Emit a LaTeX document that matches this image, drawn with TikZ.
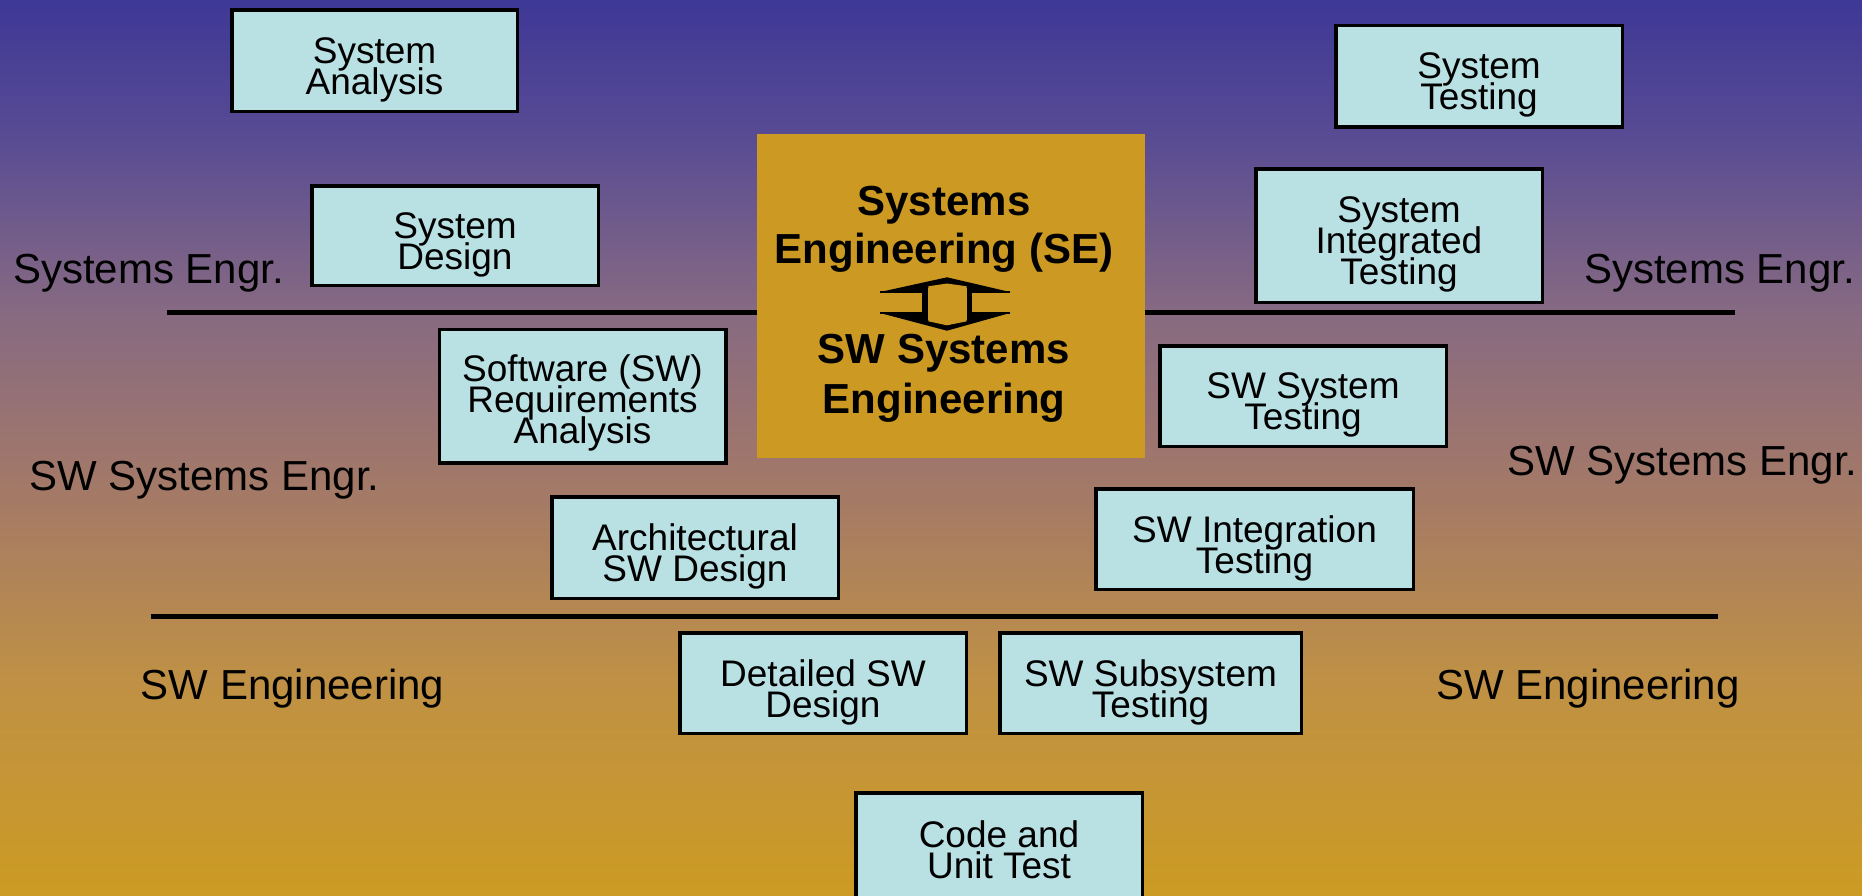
\documentclass[tikz,border=0pt]{standalone}
\usepackage{fontspec}
\setmainfont{Liberation Sans}
\definecolor{bgA}{RGB}{62,56,150}
\definecolor{bgB}{RGB}{88,75,148}
\definecolor{bgC}{RGB}{135,106,130}
\definecolor{bgD}{RGB}{162,120,105}
\definecolor{bgE}{RGB}{192,145,68}
\definecolor{bgF}{RGB}{204,155,35}
\definecolor{boxcyan}{RGB}{185,224,227}
\definecolor{segold}{RGB}{204,153,34}
\pgfdeclareverticalshading{bgshade}{100bp}{color(0bp)=(bgF); color(25bp)=(bgF); color(36.7bp)=(bgE); color(48.2bp)=(bgD); color(57.6bp)=(bgC); color(67.5bp)=(bgB); color(75bp)=(bgA); color(100bp)=(bgA)}
\newcommand{\tightlines}{\lineskiplimit=-100pt\relax\lineskip=0pt\relax}
\tikzset{
  stagebox/.style={draw=black, line width=3.5pt, fill=boxcyan, inner sep=0pt},
  boxtext/.style={align=center, inner sep=0pt, font=\fontsize{37}{31}\selectfont\tightlines},
  sidelabel/.style={inner sep=0pt, anchor=base, font=\fontsize{42}{48}\selectfont},
  setext/.style={inner sep=0pt, anchor=base, font=\fontsize{42}{48}\selectfont\bfseries},
  divider/.style={line width=5pt, draw=black},
}
\begin{document}
\begin{tikzpicture}[x=1pt,y=-1pt]
\clip (0,0) rectangle (1862,895);
\shade[shading=bgshade] (0,0) rectangle (1862,895);

% dividers
\coordinate (d1a) at (167,312);
\coordinate (d1b) at (1735,312);
\coordinate (d2a) at (151,616);
\coordinate (d2b) at (1718,616);
\draw[divider] (d1a) -- (d1b);
\draw[divider] (d2a) -- (d2b);

% central box
\node[fill=segold, minimum width=388pt, minimum height=324pt, inner sep=0pt] (se) at (951,296) {};
\node[setext] (se1) at (944,215) {Systems};
\node[setext] (se2) at (944,263) {Engineering (SE)};
\node[setext] (se3) at (944,363) {SW Systems};
\node[setext] (se4) at (944,413) {Engineering};

% double arrow symbol
\fill[black] (880,292) -- (947,277.3) -- (1010,292) -- cycle;
\fill[black] (880,313) -- (947,330.7) -- (1010,313) -- cycle;
\fill[black] (922,290) rectangle (972,315);
\fill[segold] (928.3,286.3) -- (947,283.5) -- (966.7,286.3) -- (966.7,321.3) -- (947,325.3) -- (928.3,321.3) -- cycle;
\draw[black, line width=1.2pt] (880,292) -- (1010,292) (880,313) -- (1010,313);
\fill[segold] (928.3,287.5) rectangle (966.7,320);

% stage boxes
\node[stagebox, minimum width=285.5pt, minimum height=101.5pt] (sa) at (374.5,60.5) {};
\node[boxtext] (sa-t) at ([yshift=-9pt]sa.center) {System\\Analysis};

\node[stagebox, minimum width=286.5pt, minimum height=99.5pt] (sd) at (455,235.5) {};
\node[boxtext] (sd-t) at ([yshift=-9pt]sd.center) {System\\Design};

\node[stagebox, minimum width=286.5pt, minimum height=101.5pt] (st) at (1479,76) {};
\node[boxtext] (st-t) at ([yshift=-9pt]st.center) {System\\Testing};

\node[stagebox, minimum width=286.5pt, minimum height=133.5pt] (sit) at (1399,235.5) {};
\node[boxtext] (sit-t) at ([yshift=-9pt]sit.center) {System\\Integrated\\Testing};

\node[stagebox, minimum width=286.5pt, minimum height=133.5pt] (sra) at (582.5,396) {};
\node[boxtext] (sra-t) at ([yshift=-7pt]sra.center) {Software (SW)\\Requirements\\Analysis};

\node[stagebox, minimum width=286.5pt, minimum height=100.5pt] (sst) at (1303,396) {};
\node[boxtext] (sst-t) at ([yshift=-9pt]sst.center) {SW System\\Testing};

\node[stagebox, minimum width=286.5pt, minimum height=101.5pt] (asd) at (695,547.5) {};
\node[boxtext] (asd-t) at ([yshift=-9pt]asd.center) {Architectural\\SW Design};

\node[stagebox, minimum width=317.5pt, minimum height=100.5pt] (sit2) at (1254.5,539) {};
\node[boxtext] (sit2-t) at ([yshift=-9pt]sit2.center) {SW Integration\\Testing};

\node[stagebox, minimum width=286.5pt, minimum height=100.5pt] (dsd) at (823,683) {};
\node[boxtext] (dsd-t) at ([yshift=-9pt]dsd.center) {Detailed SW\\Design};

\node[stagebox, minimum width=301.5pt, minimum height=100.5pt] (sss) at (1150.5,683) {};
\node[boxtext] (sss-t) at ([yshift=-9pt]sss.center) {SW Subsystem\\Testing};

\node[stagebox, minimum width=286.5pt, minimum height=111.5pt] (cut) at (999,848.5) {};
\node[boxtext] (cut-t) at ([yshift=-1.5pt]cut.center) {Code and\\Unit Test};

% side labels
\node[sidelabel] (l1) at (148.5,283) {Systems Engr.};
\node[sidelabel] (r1) at (1719.5,283) {Systems Engr.};
\node[sidelabel] (l2) at (204.5,490) {SW Systems Engr.};
\node[sidelabel] (r2) at (1682.5,475) {SW Systems Engr.};
\node[sidelabel] (l3) at (292.5,699) {SW Engineering};
\node[sidelabel] (r3) at (1588,699) {SW Engineering};
\end{tikzpicture}
\end{document}
